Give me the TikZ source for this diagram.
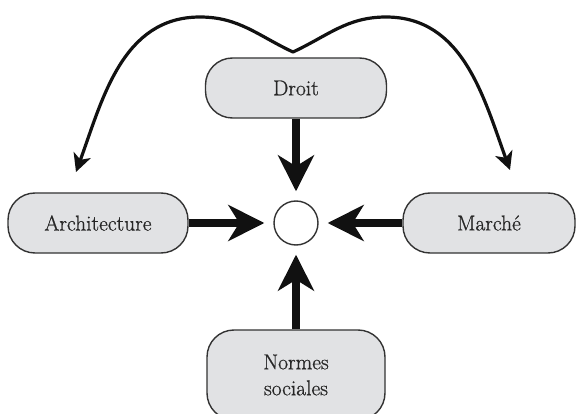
\documentclass[tikz,border=0pt]{standalone}
\usepackage{fontspec}
\newfontfamily\boxfont{Latin Modern Roman}[RawFeature={embolden=0.8}]
\usetikzlibrary{arrows.meta}
\definecolor{boxfill}{HTML}{E1E2E4}
\definecolor{boxline}{HTML}{333333}
\definecolor{ink}{HTML}{111111}
\definecolor{txt}{HTML}{262626}
\tikzset{
 box/.style={draw=boxline, fill=boxfill, line width=1.4pt, rounded corners=27pt, minimum height=60pt, align=center, font=\boxfont\fontsize{21.5}{26}\selectfont, text=txt, inner sep=0pt},
 hub/.style={circle, draw=boxline, line width=1.4pt, minimum size=44pt, fill=white, inner sep=0pt},
 bigarrow/.style={draw=ink, line width=8pt, -{Stealth[length=36pt,width=36pt,inset=11pt]}, shorten >=9pt},
 curvearrow/.style={draw=ink, line width=3.2pt, line cap=round, -{Stealth[length=18pt,width=18pt,inset=5pt]}}
}
\begin{document}
\begin{tikzpicture}[x=1pt,y=1pt]
\clip (0,0) rectangle (576,413);
\node[box, minimum width=181pt] (droit) at (296,325) {Droit};
\node[box, minimum width=180pt] (archi) at (98,190) {Architecture};
\node[box, minimum width=172pt] (marche) at (489,190) {Marché};
\node[box, minimum width=178pt, minimum height=90pt] (normes) at (296,38) {Normes\\sociales};
\node[hub] (hub) at (296,190) {};
\draw[bigarrow] (droit.south) -- (hub.north);
\draw[bigarrow] (archi.east) -- (hub.west);
\draw[bigarrow] (marche.west) -- (hub.east);
\draw[bigarrow] (normes.north) -- (hub.south);
\coordinate (vtop) at (293,361);
\coordinate (lpeak) at (200,396);
\coordinate (ltip) at (76,241);
\coordinate (rpeak) at (386,396);
\coordinate (rtip) at (510,243);
\draw[curvearrow] (vtop) to[out=155,in=0] (lpeak) to[out=180,in=70] (ltip);
\draw[curvearrow] (vtop) to[out=25,in=180] (rpeak) to[out=0,in=110] (rtip);
\end{tikzpicture}
\end{document}
